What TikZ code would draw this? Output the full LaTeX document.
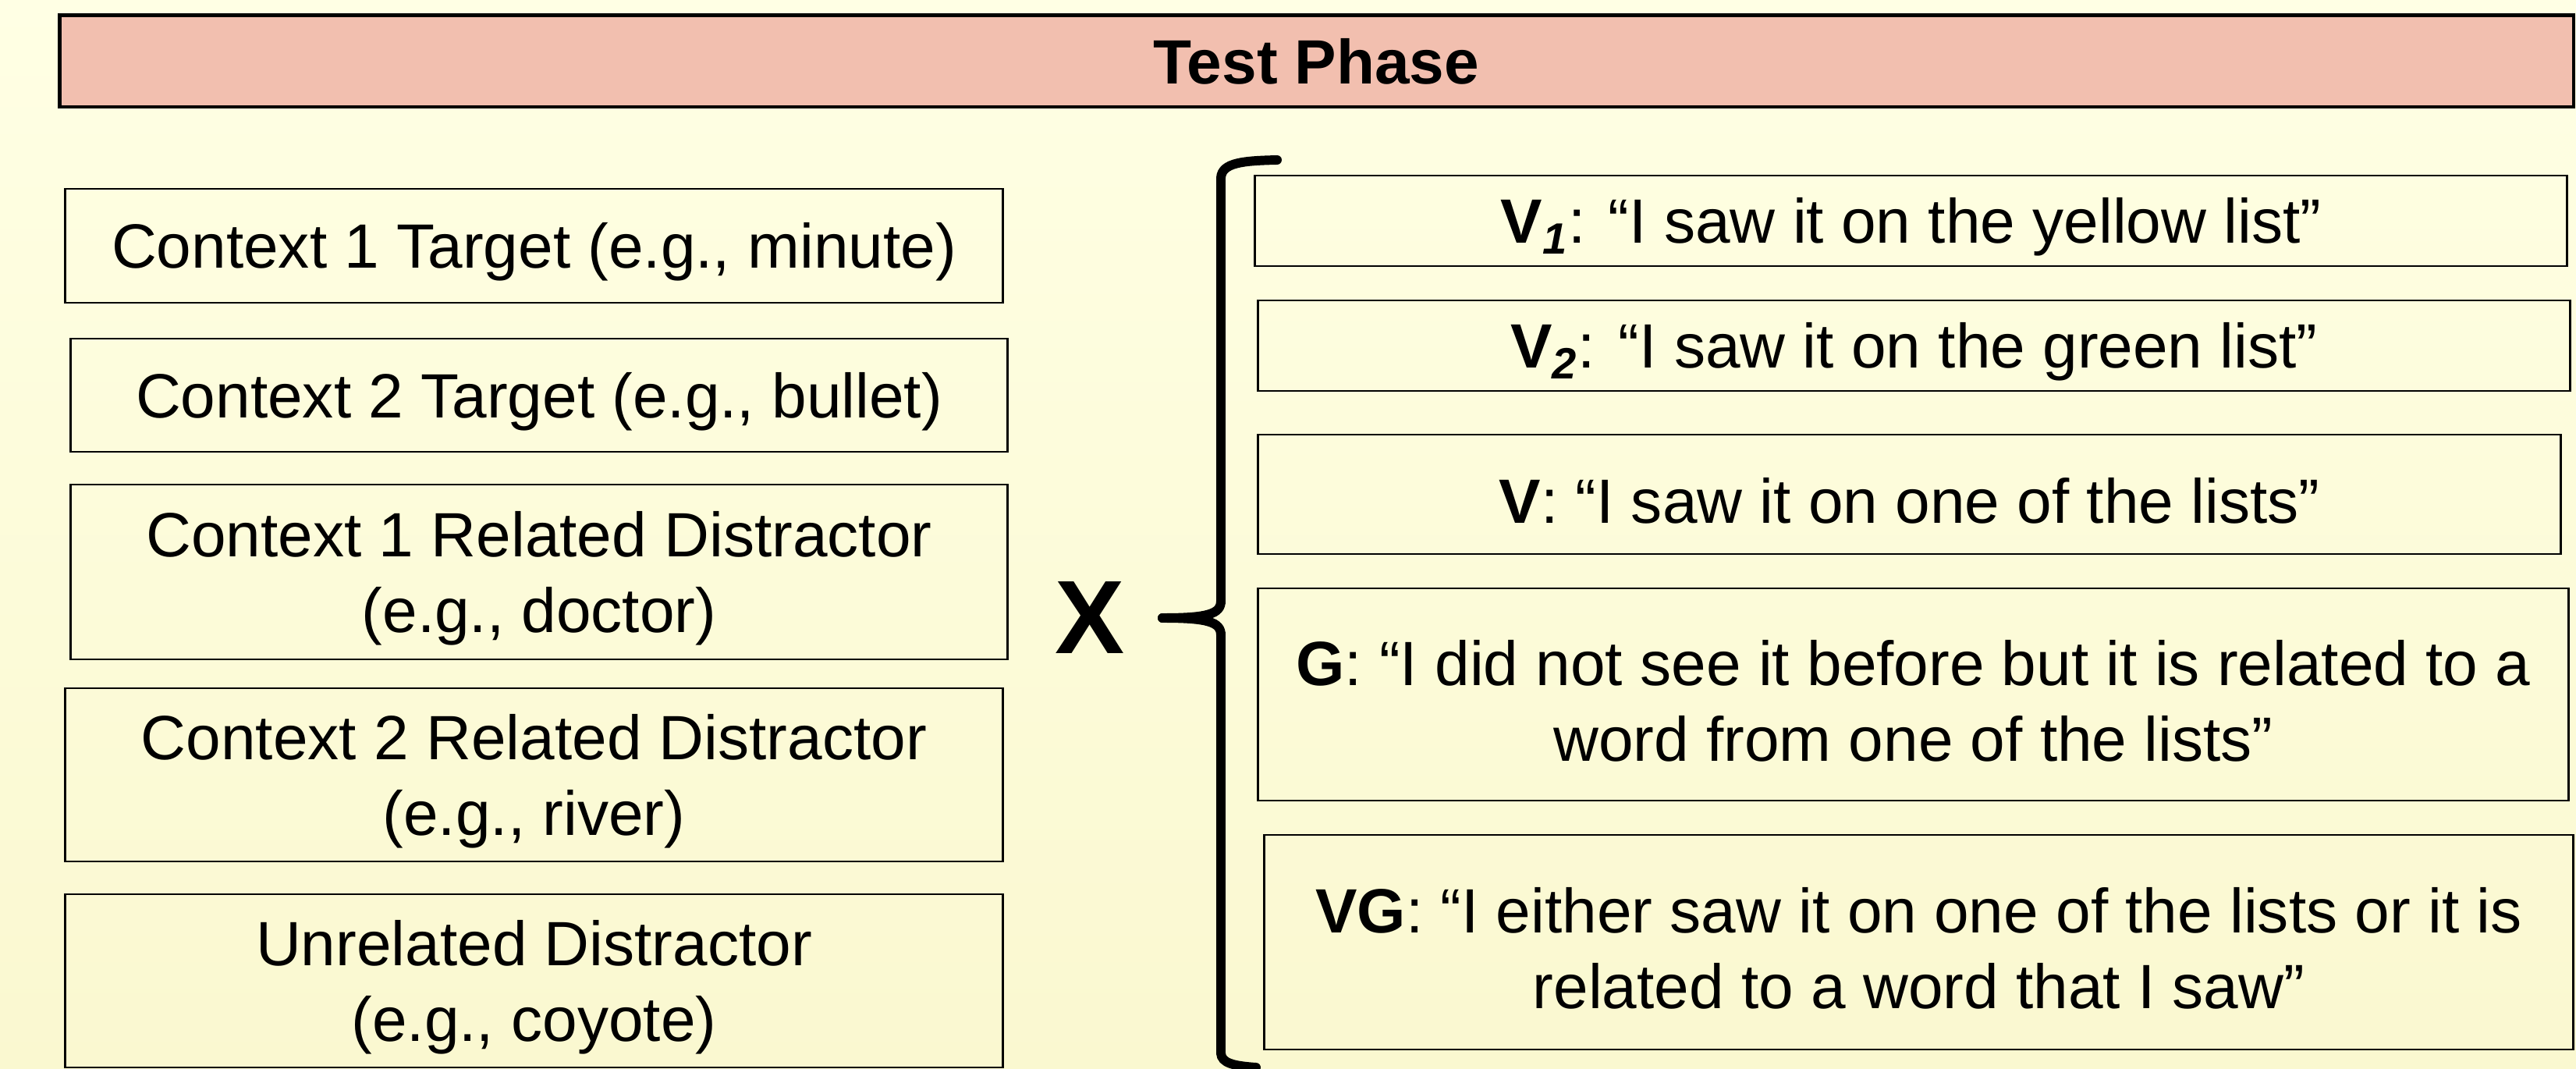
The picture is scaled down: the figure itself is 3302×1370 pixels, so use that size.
\documentclass[tikz,border=0pt]{standalone}
\usepackage{fontspec}
\setmainfont{Liberation Sans}
\definecolor{bgtop}{HTML}{FFFFE4}
\definecolor{bgbot}{HTML}{FAF8D0}
\definecolor{barfill}{HTML}{F2BFAF}
\begin{document}
\begin{tikzpicture}[x=0.01cm,y=-0.01cm,
  frame/.style={draw=black, line width=0.7pt, inner sep=0pt},
  txt/.style={align=center, inner sep=0pt, font=\fontsize{22.8}{27.6}\selectfont},
  bracestroke/.style={line width=3.4pt, black, line cap=round}]
\useasboundingbox (0,0) rectangle (3302,1370);
\shade[top color=bgtop, bottom color=bgbot] (0,0) rectangle (3302,1370);
% title bar
\node[draw=black, line width=1.4pt, fill=barfill, minimum width=32.21cm, minimum height=1.17cm,
  inner sep=0pt, font=\bfseries\fontsize{22.8}{27}\selectfont] (title) at (1687.5,78.5) {Test Phase};
% left boxes
\node[frame, minimum width=12.01cm, minimum height=1.46cm] (c1) at (684.5,315) {};
\node[frame, minimum width=12.00cm, minimum height=1.45cm] (c2) at (691,506.5) {};
\node[frame, minimum width=12.00cm, minimum height=2.24cm] (r1) at (691,733) {};
\node[frame, minimum width=12.01cm, minimum height=2.22cm] (r2) at (684.5,993) {};
\node[frame, minimum width=12.01cm, minimum height=2.22cm] (un) at (684.5,1257) {};
\node[txt] (c1t) at ([yshift=-0.08cm]c1.center) {Context 1 Target (e.g., minute)};
\node[txt] (c2t) at ([yshift=-0.08cm]c2.center) {Context 2 Target (e.g., bullet)};
\node[txt] (r1t) at ([yshift=-0.08cm]r1.center) {Context 1 Related Distractor\\(e.g., doctor)};
\node[txt] (r2t) at ([yshift=-0.08cm]r2.center) {Context 2 Related Distractor\\(e.g., river)};
\node[txt] (unt) at ([yshift=-0.08cm]un.center) {Unrelated Distractor\\(e.g., coyote)};
% X
\node[font=\bfseries\fontsize{38}{38}\selectfont, inner sep=0pt] (x) at (1397,792) {X};
% right boxes
\node[frame, minimum width=16.81cm, minimum height=1.16cm] (v1) at (2449.5,283) {};
\node[frame, minimum width=16.81cm, minimum height=1.16cm] (v2) at (2453.5,443) {};
\node[frame, minimum width=16.69cm, minimum height=1.53cm] (v) at (2447.5,633.5) {};
\node[frame, minimum width=16.79cm, minimum height=2.72cm] (g) at (2452.5,890) {};
\node[frame, minimum width=16.77cm, minimum height=2.75cm] (vg) at (2459.5,1207.5) {};
\node[txt] (v1t) at ([yshift=-0.08cm]v1.center)
  {\textbf{V\textsubscript{\textit{1}}}: “I saw it on the yellow list”};
\node[txt] (v2t) at ([yshift=-0.08cm]v2.center)
  {\textbf{V\textsubscript{\textit{2}}}: “I saw it on the green list”};
\node[txt] (vt) at ([yshift=-0.08cm]v.center)
  {\textbf{V}: “I saw it on one of the lists”};
\node[txt] (gt) at ([yshift=-0.08cm]g.center)
  {\textbf{G}: “I did not see it before but it is related to a\\word from one of the lists”};
\node[txt] (vgt) at ([yshift=-0.08cm]vg.center)
  {\textbf{VG}: “I either saw it on one of the lists or it is\\related to a word that I saw”};
% brace
\coordinate (btop) at (1637,205);
\coordinate (btip) at (1490,792);
\coordinate (bbot) at (1610,1368);
\draw[bracestroke] (btop) .. controls (1595,206) and (1566,208) .. (1565,228) -- (1565,770)
  .. controls (1565,787) and (1548,792) .. (btip);
\draw[bracestroke] (btip) .. controls (1548,792) and (1565,797) .. (1565,814) -- (1565,1350)
  .. controls (1566,1362) and (1580,1366) .. (bbot);
\end{tikzpicture}
\end{document}
